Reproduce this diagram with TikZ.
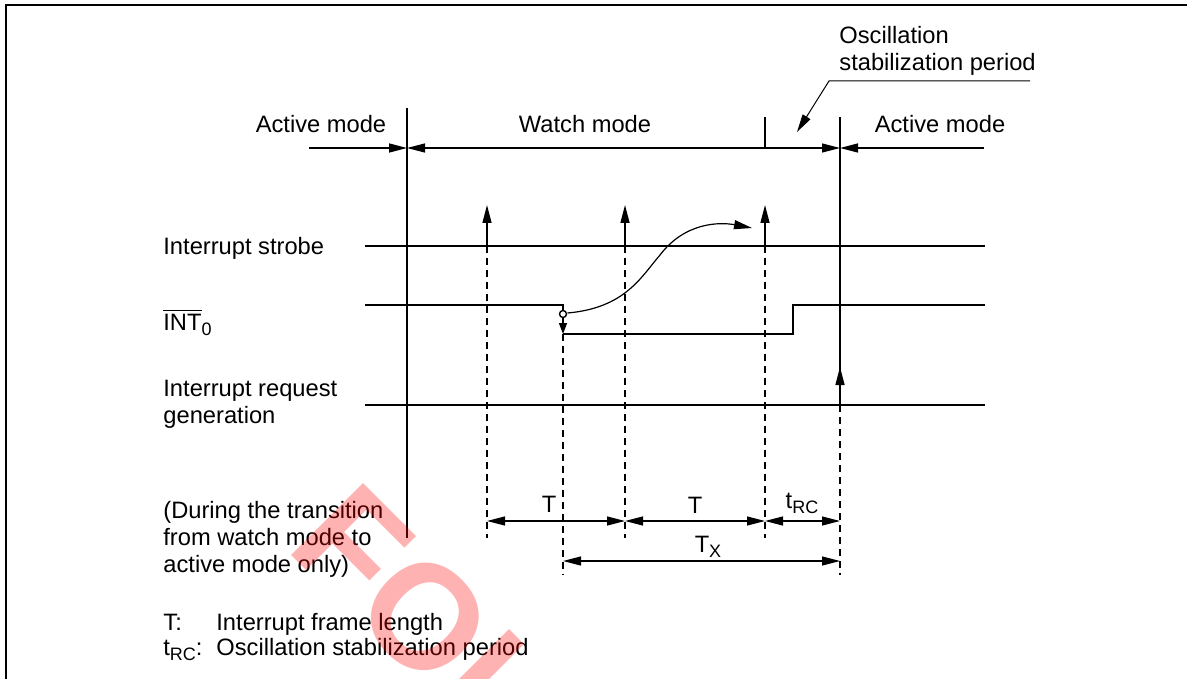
\documentclass[tikz,border=0pt]{standalone}
\usepackage{fontspec}
\setmainfont{Liberation Sans}
\usetikzlibrary{arrows.meta}
\newcommand\lowsub[1]{\raisebox{-2.5pt}{\fontsize{9}{9}\selectfont #1}}
\begin{document}
\begin{tikzpicture}[x=0.5pt,y=-0.5pt,
		every node/.style={inner sep=0pt,font=\fontsize{11.85}{13.5}\selectfont},
		sig/.style={line width=0.7pt},
		guide/.style={line width=0.6pt,dash pattern=on 3.5pt off 2.5pt},
		arr/.style={-{Triangle[length=9pt,width=4.5pt]}},
		shortarr/.style={-{Triangle[length=5.5pt,width=4pt]}},
		dimarr/.style={line width=0.6pt,{Triangle[length=9pt,width=4.5pt]}-{Triangle[length=9pt,width=4.5pt]}}]
				\useasboundingbox (0,0) rectangle (1187,679);
				\draw[line width=0.8pt] (1187,5) -- (6,5) -- (6,679);
				\node[anchor=base] (actL) at (321,133) {Active mode};
				\node[anchor=base] (watch) at (585,133) {Watch mode};
				\node[anchor=base] (actR) at (940,133) {Active mode};
				\node[anchor=base west,align=left] (osc) at (839,71) {Oscillation\\stabilization period};
				\draw[line width=0.5pt,arr] (1030,81) -- (829,81) -- (797,132);
				\draw[sig,arr] (309,148) -- (407,148);
				\draw[sig,dimarr] (407,148) -- (840,148);
				\draw[sig,arr] (984,148) -- (840,148);
				\draw[sig] (407,108) -- (407,538);
				\draw[sig] (765,117) -- (765,148);
				\draw[sig] (840,117) -- (840,405);
				\draw[sig,arr] (840,405) -- (840,367);
				\draw[guide] (840,405) -- (840,575);
				\node[anchor=base west] (strobe) at (163,255) {Interrupt strobe};
				\node[anchor=base west] (int0) at (163,330) {$\overline{\hbox{INT}}$\lowsub{0}};
				\node[anchor=base west,align=left] (req) at (163,423) {Interrupt request\\generation};
				\draw[sig] (365,246) -- (985,246);
				\draw[sig] (365,405) -- (985,405);
				\draw[sig] (365,305) -- (563,305) -- (563,310.5);
				\draw[sig] (563,334) -- (793,334) -- (793,305) -- (985,305);
				\draw[sig,shortarr] (563,317.5) -- (563,334);
				\draw[sig,fill=white] (563,314) circle[radius=3.5];
				\foreach \x in {487,625,765} {
					\draw[sig,arr] (\x,246) -- (\x,205);
					\draw[guide] (\x,246) -- (\x,538);
				}
				\draw[guide] (563,334) -- (563,575);
				\draw[line width=0.6pt,arr] (567.5,313) .. controls (625,308) and (641,277) .. (660,255) .. controls (685,222) and (720,222) .. (752,228);
				\draw[dimarr] (487,521) -- (625,521);
				\draw[dimarr] (625,521) -- (765,521);
				\draw[dimarr] (765,521) -- (840,521);
				\draw[dimarr] (563,561) -- (840,561);
				\node[anchor=base] (T1) at (549,512) {T};
				\node[anchor=base] (T2) at (695,513) {T};
				\node[anchor=base] (tRC) at (802,508) {t\lowsub{RC}};
				\node[anchor=base] (TX) at (708,552) {T\lowsub{X}};
				\node[anchor=base west,align=left] (during) at (163,572) {(During the transition\\from watch mode to\\active mode only)};
				\node[anchor=base west] (Tkey) at (163,630) {T:};
				\node[anchor=base west] (Tdef) at (216,630) {Interrupt frame length};
				\node[anchor=base west] (tkey) at (163,655) {t\lowsub{RC}:};
				\node[anchor=base west] (tdef) at (216,655) {Oscillation stabilization period};
				\node[rotate=-45,text=red,opacity=0.3,text opacity=0.3,font=\fontsize{74}{74}\selectfont\bfseries] (mark) at (408,600) {FOI};
			\end{tikzpicture}
\end{document}
